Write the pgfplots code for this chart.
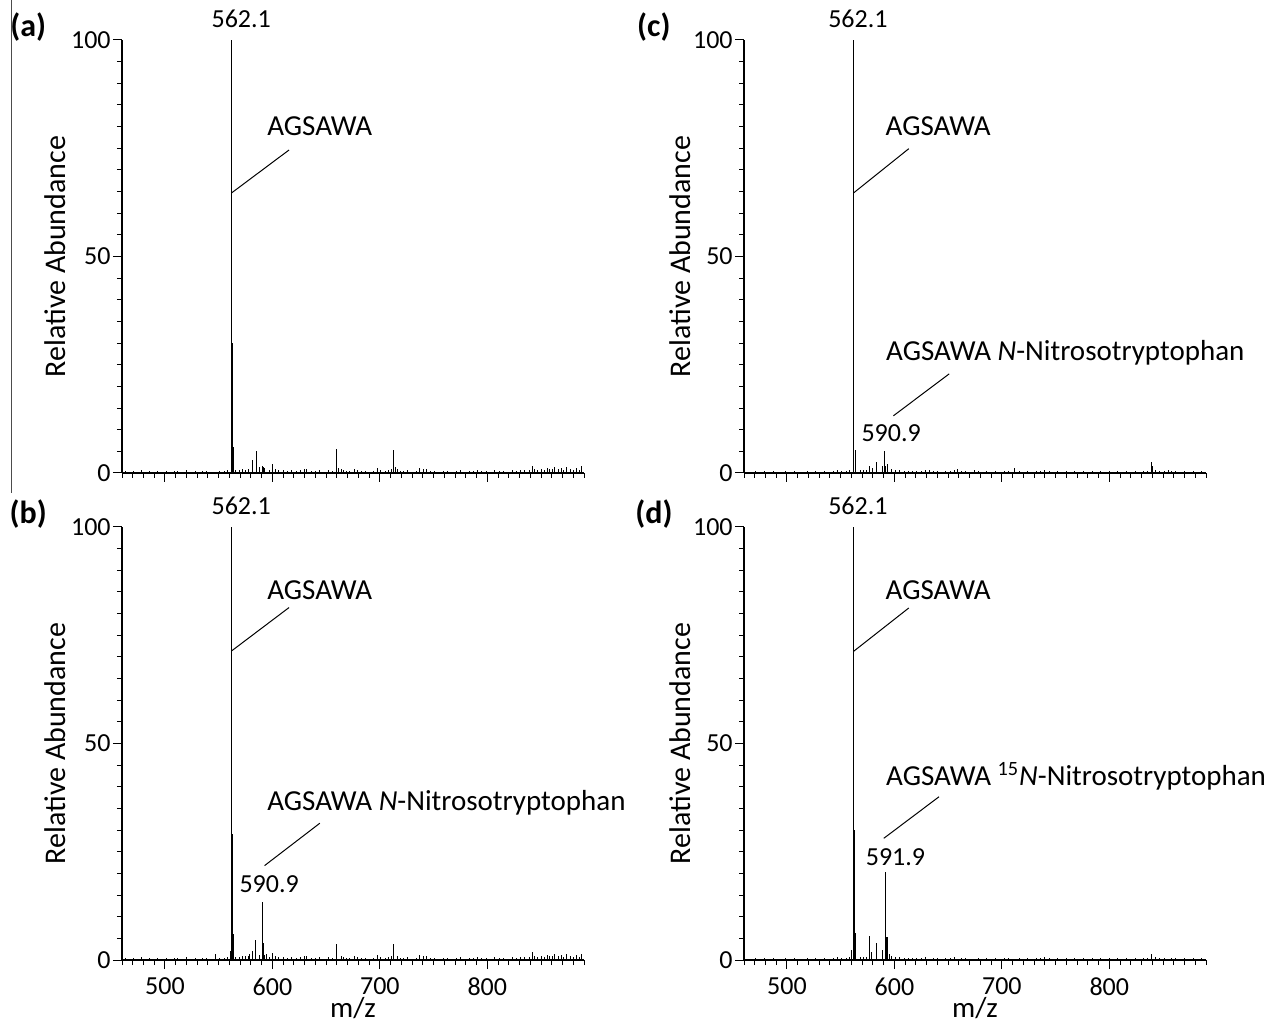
\documentclass[border=0pt]{standalone}
\usepackage{fontspec}
\setmainfont{Carlito}
\usepackage{pgfplots}
\pgfplotsset{compat=1.18}
\usepackage{pgfplotstable}

\newcommand\lab{\fontsize{14.5bp}{16bp}\selectfont}
\newcommand\ylab{\fontsize{15bp}{17bp}\selectfont}
\newcommand\num{\fontsize{13bp}{15bp}\selectfont}
\newcommand\pan{\fontsize{16bp}{18bp}\selectfont\bfseries}

% baseline noise, panels a and b
\pgfplotstableread{
mz h
463 0.4
467 0.3
471 0.5
474 0.3
478 0.6
482 0.3
486 0.4
489 0.3
493 0.5
497 0.3
501 0.4
505 0.3
509 0.5
512 0.4
516 0.3
520 0.6
524 0.3
528 0.4
531 0.3
535 0.5
539 0.4
543 0.3
551 0.4
555 0.5
558 0.7
566 0.8
569 0.6
572 0.9
575 0.7
578 1.0
588 1.2
593 1.1
597 0.8
603 0.9
606 0.6
610 0.7
614 0.5
618 0.8
622 0.4
626 0.6
630 1.0
632 0.9
636 0.5
640 0.4
644 0.6
648 0.3
652 0.8
656 0.5
664 0.9
666 0.7
669 0.5
672 0.4
676 1.0
679 0.6
683 0.4
687 0.5
690 0.3
694 0.4
698 1.2
701 0.6
705 0.4
708 0.7
711 0.9
716 1.0
719 0.5
722 0.4
726 0.6
730 0.3
734 0.5
737 1.2
743 0.9
747 0.4
751 0.5
755 0.3
759 0.4
763 0.5
767 0.3
771 0.4
775 0.6
779 0.3
783 0.4
787 0.5
791 0.7
795 0.4
799 0.5
803 0.3
807 0.6
811 0.4
815 0.5
819 0.3
823 0.6
827 0.5
831 0.7
835 0.6
839 0.8
844 1.0
847 0.7
850 1.0
853 0.8
856 1.2
858 1.0
861 0.9
863 1.3
866 1.0
869 1.1
871 0.7
874 1.3
877 0.9
880 0.6
883 1.1
886 0.8
888 1.5
}\noiseAB

% baseline noise, panels c and d
\pgfplotstableread{
mz h
463 0.3
467 0.2
471 0.4
475 0.3
479 0.5
483 0.3
487 0.4
491 0.2
495 0.3
499 0.5
503 0.3
507 0.4
511 0.3
515 0.2
519 0.4
523 0.3
527 0.4
531 0.3
535 0.4
539 0.3
543 0.5
547 0.6
551 0.4
555 0.5
558 0.6
568 0.7
571 0.6
574 0.8
597 0.9
601 0.7
605 0.6
609 0.5
613 0.4
617 0.5
621 0.4
625 0.5
629 0.6
636 0.5
640 0.4
644 0.3
648 0.5
652 0.4
656 0.6
662 0.5
666 0.4
670 0.3
678 0.5
682 0.3
686 0.4
690 0.3
694 0.5
698 0.3
702 0.4
706 0.5
716 0.4
720 0.3
724 0.4
728 0.3
732 0.4
736 0.5
740 0.6
744 0.4
748 0.3
752 0.4
756 0.3
760 0.4
764 0.3
768 0.4
772 0.3
776 0.4
780 0.3
784 0.4
788 0.3
792 0.4
796 0.3
800 0.4
804 0.3
808 0.4
812 0.3
816 0.4
820 0.3
824 0.4
828 0.3
832 0.5
836 0.4
843 0.6
847 0.5
851 0.4
858 0.5
862 0.4
866 0.3
870 0.4
874 0.3
878 0.4
882 0.3
886 0.5
}\noiseCD

\pgfplotstableread{
mz h
562.1 100
563.1 30
564.1 6
581.9 3.1
585.1 5.0
588.0 1.4
590.5 1.6
592.0 1.3
600.5 2.1
660.0 5.5
661.5 1.2
713.0 5.2
714.5 1.3
741.0 1.0
842.0 1.5
}\peaksA

\pgfplotstableread{
mz h
547.4 1.4
561.0 2.0
562.1 100
563.1 29
564.1 6
575.0 1.0
579.0 1.5
581.3 2.1
584.4 4.6
590.9 13.4
592.0 4.0
594.5 1.5
600.5 1.7
660.0 3.8
713.0 3.8
741.0 1.0
842.0 1.8
}\peaksB

\pgfplotstableread{
mz h
562.1 100
563.9 5.2
576.6 1.5
580.0 1.2
583.5 2.5
589.0 1.5
590.9 5.0
591.8 1.5
593.4 2.0
632.6 0.8
658.8 1.0
674.5 0.6
711.9 1.1
839.7 2.5
840.5 1.5
855.0 0.6
}\peaksC

\pgfplotstableread{
mz h
560.5 2.2
562.1 100
563.0 30
564.2 6.2
576.6 5.6
579.0 1.9
583.5 4.0
588.7 2.3
591.9 20.3
592.7 5.3
593.6 5.4
595.0 1.5
839.7 1.3
}\peaksD

\pgfplotsset{
  msbase/.style={
    scale only axis, width=231bp, height=216.5bp,
    anchor=south west,
    xmin=460, xmax=890, ymin=0, ymax=100,
    axis lines=left, axis line style={-, line width=0.6pt},
    clip=false,
    xtick={500,600,700,800}, minor xtick={460,470,...,890},
    ytick={0,50,100}, minor ytick={5,10,...,95},
    tick align=outside, tick style={black, line width=0.5pt},
    major tick length=4.5bp, minor tick length=2.5bp,
    /pgf/number format/assume math mode=true,
    ticklabel style={font=\num},
    yticklabel style={inner sep=1bp},
    xticklabel style={yshift=-1bp},
    ylabel={Relative Abundance},
    ylabel style={at={(axis description cs:-0.145,0.5)}, anchor=center, font=\ylab},
    xlabel style={at={(axis description cs:0.5,-0.11)}, anchor=center, font=\lab},
  },
  stick/.style={ycomb, no marks, black, line width=0.5pt},
}

\begin{document}
\begin{tikzpicture}
\useasboundingbox (0,0) rectangle (634.5bp,512.5bp);
\draw[black!70, line width=0.5pt] (5.5bp,512.5bp) -- (5.5bp,266bp);

% (a)
\begin{axis}[msbase, at={(61bp,276bp)}, xticklabels={}]
  \addplot[stick] table[x=mz, y=h] {\noiseAB};
  \addplot[stick] table[x=mz, y=h] {\peaksA};
  \node[font=\num] at (axis cs:571,105) {562.1};
  \draw[line width=0.5pt] (axis cs:562.1,64.7) -- (axis cs:615.5,74.6);
  \node[font=\lab, anchor=west, inner sep=0] at (axis cs:594.9,80) {AGSAWA};
  \node[font=\pan] at (rel axis cs:-0.203,1.03) {(a)};
\end{axis}

% (b)
\begin{axis}[msbase, at={(61bp,32.5bp)}, xlabel={m/z}]
  \addplot[stick] table[x=mz, y=h] {\noiseAB};
  \addplot[stick] table[x=mz, y=h] {\peaksB};
  \node[font=\num] at (axis cs:571,105) {562.1};
  \draw[line width=0.5pt] (axis cs:562.1,71.4) -- (axis cs:615.5,81.4);
  \node[font=\lab, anchor=west, inner sep=0] at (axis cs:594.9,85.5) {AGSAWA};
  \draw[line width=0.5pt] (axis cs:592.7,21.8) -- (axis cs:644.2,31.6);
  \node[font=\lab, anchor=west, inner sep=0] at (axis cs:594.9,36.3) {AGSAWA \textit{N}-Nitrosotryptophan};
  \node[font=\num] at (axis cs:597,17.6) {590.9};
  \node[font=\pan] at (rel axis cs:-0.203,1.03) {(b)};
\end{axis}

% (c)
\begin{axis}[msbase, at={(372bp,276bp)}, xticklabels={},
  ylabel style={at={(axis description cs:-0.139,0.5)}}]
  \addplot[stick] table[x=mz, y=h] {\noiseCD};
  \addplot[stick] table[x=mz, y=h] {\peaksC};
  \node[font=\num] at (axis cs:566,105) {562.1};
  \draw[line width=0.5pt] (axis cs:562.1,64.7) -- (axis cs:613.4,74.9);
  \node[font=\lab, anchor=west, inner sep=0] at (axis cs:591.5,80) {AGSAWA};
  \draw[line width=0.5pt] (axis cs:599,13.2) -- (axis cs:651,22.9);
  \node[font=\lab, anchor=west, inner sep=0] at (axis cs:592,27.7) {AGSAWA \textit{N}-Nitrosotryptophan};
  \node[font=\num] at (axis cs:597,9.2) {590.9};
  \node[font=\pan] at (rel axis cs:-0.195,1.03) {(c)};
\end{axis}

% (d)
\begin{axis}[msbase, at={(372bp,32.5bp)}, xlabel={m/z},
  ylabel style={at={(axis description cs:-0.139,0.5)}}]
  \addplot[stick] table[x=mz, y=h] {\noiseCD};
  \addplot[stick] table[x=mz, y=h] {\peaksD};
  \node[font=\num] at (axis cs:566,104.8) {562.1};
  \draw[line width=0.5pt] (axis cs:562.1,71.3) -- (axis cs:613.4,81.3);
  \node[font=\lab, anchor=west, inner sep=0] at (axis cs:591.5,85.4) {AGSAWA};
  \draw[line width=0.5pt] (axis cs:590.1,28.1) -- (axis cs:641.5,37.7);
  \node[font=\lab, anchor=west, inner sep=0] at (axis cs:592,42.4) {AGSAWA \textsuperscript{15}\textit{N}-Nitrosotryptophan};
  \node[font=\num] at (axis cs:601,23.7) {591.9};
  \node[font=\pan] at (rel axis cs:-0.195,1.03) {(d)};
\end{axis}
\end{tikzpicture}
\end{document}
